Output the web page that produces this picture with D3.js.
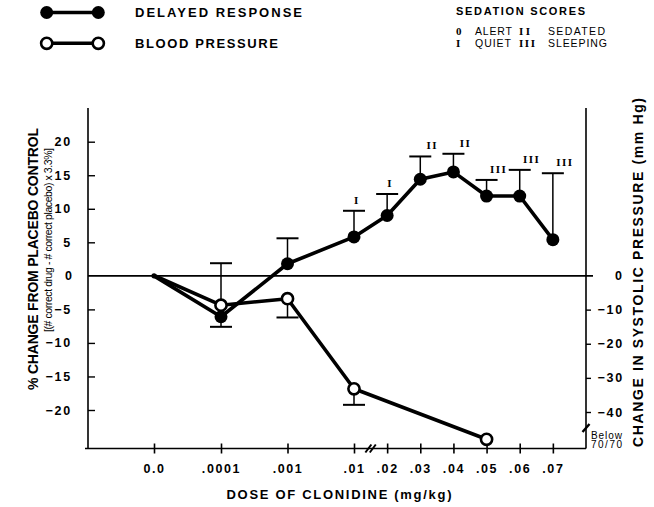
<!DOCTYPE html>
<html>
<head>
<meta charset="utf-8">
<script src="https://cdn.jsdelivr.net/npm/d3@7/dist/d3.min.js"></script>
<style>
  html, body { margin: 0; padding: 0; background: #fff; }
  svg { display: block; }
  text { fill: #000; }
</style>
</head>
<body>
<svg id="chart" width="654" height="507"></svg>
<script>
// Clonidine dose steps (mg/kg) and their axis labels
const doses = [0, 0.0001, 0.001, 0.01, 0.02, 0.03, 0.04, 0.05, 0.06, 0.07];
const doseLabels = ["0.0", ".0001", ".001", ".01", ".02", ".03", ".04", ".05", ".06", ".07"];

// Delayed response: % change from placebo control, with error-bar ends
const drDoses = [0, 0.0001, 0.001, 0.01, 0.02, 0.03, 0.04, 0.05, 0.06, 0.07];
const drValues = [0, -6.1, 1.8, 5.8, 9.0, 14.4, 15.5, 11.9, 11.9, 5.4];
const drErrEnds = [null, -7.6, 5.6, 9.7, 12.2, 17.8, 18.2, 14.3, 15.8, 15.3];
const drSedation = [null, null, null, "I", "I", "II", "II", "III", "III", "III"];

// Blood pressure: change in systolic pressure (mm Hg)
const bpDoses = [0, 0.0001, 0.001, 0.01, 0.05];
const bpValues = [0, -8.7, -6.8, -33.2, -48];
const bpErrEnds = [null, 3.6, -12.3, -37.9, null];

// Axis ticks
const leftTicks = [-20, -15, -10, -5, 0, 5, 10, 15, 20];
const rightTicks = [0, -10, -20, -30, -40];

const svg = d3.select("#chart");
const SANS = "'Liberation Sans', Arial, Helvetica, sans-serif";
const SERIF = "'Liberation Serif', 'Times New Roman', serif";

// Piecewise dose scale: stretched spacing below .01, linear above
const x = d3.scaleLinear()
  .domain([0, 0.0001, 0.001, 0.01, 0.08])
  .range([154, 221, 287.5, 354, 586]);
const yL = d3.scaleLinear().domain([-20, 20]).range([410, 141.7]);
const yR = d3.scaleLinear().domain([0, -40]).range([275.5, 412]);

const plotLeft = 88, plotRight = 586, plotTop = 108, plotBottom = 448.5;

const g = svg.append("g");

// Frame: left and right axes
g.append("line").attr("x1", plotLeft).attr("x2", plotLeft).attr("y1", plotTop).attr("y2", plotBottom)
  .attr("stroke", "#000").attr("stroke-width", 1.6);
g.append("line").attr("x1", plotRight).attr("x2", plotRight).attr("y1", plotTop).attr("y2", plotBottom)
  .attr("stroke", "#000").attr("stroke-width", 1.6);

// Zero reference line
g.append("line").attr("x1", plotLeft).attr("x2", plotRight + 7)
  .attr("y1", yL(0)).attr("y2", yL(0))
  .attr("stroke", "#000").attr("stroke-width", 1.6);

// Bottom axis
const xAxis = d3.axisBottom(x)
  .tickValues(doses)
  .tickFormat((d, i) => doseLabels[i])
  .tickSizeInner(5).tickSizeOuter(0).tickPadding(11);
const gx = g.append("g").attr("transform", `translate(0,${plotBottom})`).call(xAxis);
gx.select(".domain").attr("d", `M${plotLeft - 3},0H${plotRight}`).attr("stroke-width", 1.6);
gx.selectAll(".tick line").attr("y1", -5).attr("y2", 5).attr("stroke-width", 1.6);
gx.selectAll(".tick text")
  .attr("font-family", SANS).attr("font-weight", "bold").attr("font-size", 12.5)
  .attr("letter-spacing", 1.6).attr("dy", "0.71em");

// Axis break between .01 and .02
const bx = (x(0.01) + x(0.02)) / 2;
[-2.2, 2.2].forEach(o => {
  g.append("line").attr("x1", bx + o - 3).attr("y1", plotBottom + 4)
    .attr("x2", bx + o + 3).attr("y2", plotBottom - 4)
    .attr("stroke", "#000").attr("stroke-width", 2);
});

// Left axis ticks (inward) and labels
const yAxisL = d3.axisLeft(yL).tickValues(leftTicks.filter(d => d !== 0))
  .tickSizeInner(-7).tickSizeOuter(0).tickPadding(22).tickFormat(d3.format("d"));
const gyl = g.append("g").attr("transform", `translate(${plotLeft},0)`).call(yAxisL);
gyl.select(".domain").remove();
gyl.selectAll(".tick line").attr("stroke-width", 1.4);
gyl.selectAll(".tick text")
  .attr("font-family", SANS).attr("font-weight", "bold").attr("font-size", 12.5)
  .attr("letter-spacing", 1.8).attr("x", -16);
g.append("text").attr("x", 72).attr("y", yL(0)).attr("dy", "0.34em")
  .attr("text-anchor", "end").attr("font-family", SANS).attr("font-weight", "bold")
  .attr("font-size", 12.5).text("0");

// Right axis ticks (outward) and labels
const yAxisR = d3.axisRight(yR).tickValues(rightTicks.filter(d => d !== 0))
  .tickSizeInner(5).tickSizeOuter(0).tickPadding(8).tickFormat(d3.format("d"));
const gyr = g.append("g").attr("transform", `translate(${plotRight},0)`).call(yAxisR);
gyr.select(".domain").remove();
gyr.selectAll(".tick line").attr("stroke-width", 1.4);
gyr.selectAll(".tick text")
  .attr("font-family", SANS).attr("font-weight", "bold").attr("font-size", 12.5)
  .attr("letter-spacing", 1.8).attr("text-anchor", "end").attr("x", 38);
g.append("text").attr("x", 622).attr("y", yR(0)).attr("dy", "0.34em")
  .attr("text-anchor", "end").attr("font-family", SANS).attr("font-weight", "bold")
  .attr("font-size", 12.5).text("0");

// Right axis break and off-scale note
g.append("line").attr("x1", plotRight - 3.5).attr("y1", 432)
  .attr("x2", plotRight + 3.5).attr("y2", 424)
  .attr("stroke", "#000").attr("stroke-width", 2.4);
const note = g.append("text").attr("font-family", SANS).attr("font-size", 10);
note.append("tspan").attr("x", 591).attr("y", 438.5).attr("textLength", 31).text("Below");
note.append("tspan").attr("x", 591).attr("y", 448).attr("textLength", 31).text("70/70");

// Axis titles
g.append("text")
  .attr("transform", "translate(37.5,259) rotate(-90)")
  .attr("text-anchor", "middle").attr("font-family", SANS).attr("font-weight", "bold")
  .attr("font-size", 14).attr("textLength", 262).attr("lengthAdjust", "spacing")
  .text("% CHANGE FROM PLACEBO CONTROL");
g.append("text")
  .attr("transform", "translate(51.5,240) rotate(-90)")
  .attr("text-anchor", "middle").attr("font-family", SANS)
  .attr("font-size", 10.5).attr("textLength", 184).attr("lengthAdjust", "spacing")
  .text("[(# correct drug - # correct placebo) x 3.3%]");
g.append("text")
  .attr("transform", "translate(643,272.5) rotate(-90)")
  .attr("text-anchor", "middle").attr("font-family", SANS).attr("font-weight", "bold")
  .attr("font-size", 14).attr("textLength", 349).attr("lengthAdjust", "spacing")
  .text("CHANGE IN SYSTOLIC PRESSURE (mm Hg)");
g.append("text")
  .attr("x", 339).attr("y", 499)
  .attr("text-anchor", "middle").attr("font-family", SANS).attr("font-weight", "bold")
  .attr("font-size", 13).attr("textLength", 225).attr("lengthAdjust", "spacing")
  .text("DOSE OF CLONIDINE (mg/kg)");

// Error bars
const cap = 11;
function errorBars(ds, vals, ends, yScale) {
  ds.forEach((d, i) => {
    if (ends[i] == null) return;
    const cx = x(d), y0 = yScale(vals[i]), y1 = yScale(ends[i]);
    g.append("line").attr("x1", cx).attr("x2", cx).attr("y1", y0).attr("y2", y1)
      .attr("stroke", "#000").attr("stroke-width", 1.5);
    g.append("line").attr("x1", cx - cap).attr("x2", cx + cap).attr("y1", y1).attr("y2", y1)
      .attr("stroke", "#000").attr("stroke-width", 2);
  });
}
errorBars(bpDoses, bpValues, bpErrEnds, yR);
errorBars(drDoses, drValues, drErrEnds, yL);

// Blood pressure line and open markers
const bpPts = bpDoses.map((d, i) => [x(d), yR(bpValues[i])]);
g.append("path").attr("d", d3.line()(bpPts))
  .attr("fill", "none").attr("stroke", "#000").attr("stroke-width", 3.6).attr("stroke-linejoin", "round");
g.selectAll(".bp").data(bpPts.slice(1)).join("circle")
  .attr("cx", d => d[0]).attr("cy", d => d[1]).attr("r", 5.6)
  .attr("fill", "#fff").attr("stroke", "#000").attr("stroke-width", 2.6);

// Delayed response line and filled markers
const drPts = drDoses.map((d, i) => [x(d), yL(drValues[i])]);
g.append("path").attr("d", d3.line()(drPts))
  .attr("fill", "none").attr("stroke", "#000").attr("stroke-width", 3.6).attr("stroke-linejoin", "round");
g.append("circle").attr("cx", drPts[0][0]).attr("cy", drPts[0][1]).attr("r", 2.6).attr("fill", "#000");
g.selectAll(".dr").data(drPts.slice(1)).join("circle")
  .attr("cx", d => d[0]).attr("cy", d => d[1]).attr("r", 6.5).attr("fill", "#000");

// Sedation score labels above the error bars
drDoses.forEach((d, i) => {
  if (!drSedation[i]) return;
  const lab = drSedation[i];
  g.append("text")
    .attr("x", x(d) + (lab.length === 1 ? 3 : 12))
    .attr("y", yL(drErrEnds[i]) - 7)
    .attr("text-anchor", "middle").attr("font-family", SERIF).attr("font-weight", "bold")
    .attr("font-size", 11).attr("letter-spacing", 1.5).text(lab);
});

// Legend: series
const leg = svg.append("g");
[["DELAYED RESPONSE", 12.5, "#000"], ["BLOOD PRESSURE", 43.3, "#fff"]].forEach(([label, ly, fill], i) => {
  leg.append("line").attr("x1", 46.7).attr("x2", 98.3).attr("y1", ly).attr("y2", ly)
    .attr("stroke", "#000").attr("stroke-width", 3.4);
  [46.7, 98.3].forEach(cx => {
    leg.append("circle").attr("cx", cx).attr("cy", ly)
      .attr("r", fill === "#000" ? 6.5 : 5.6)
      .attr("fill", fill).attr("stroke", "#000").attr("stroke-width", fill === "#000" ? 0 : 2.6);
  });
  leg.append("text").attr("x", 135).attr("y", ly + 4.8)
    .attr("font-family", SANS).attr("font-weight", "bold").attr("font-size", 13)
    .attr("textLength", i === 0 ? 167 : 143).attr("lengthAdjust", "spacing")
    .text(label);
});

// Legend: sedation scores
const sed = svg.append("g");
sed.append("text").attr("x", 456).attr("y", 15)
  .attr("font-family", SANS).attr("font-weight", "bold").attr("font-size", 11)
  .attr("textLength", 129).attr("lengthAdjust", "spacing").text("SEDATION SCORES");
const sedRows = [
  [["0", 456, 35, null], ["ALERT", 475, 35, 37], ["II", 519, 35, 11], ["SEDATED", 548, 35, 57]],
  [["I", 456, 47, null], ["QUIET", 475, 47, 36], ["III", 519, 47, 16], ["SLEEPING", 548, 47, 59]]
];
sedRows.forEach(row => row.forEach(([t, tx, ty, len]) => {
  const roman = /^[0I]+$/.test(t);
  const el = sed.append("text").attr("x", tx).attr("y", ty)
    .attr("font-family", roman ? SERIF : SANS)
    .attr("font-weight", roman ? "bold" : "normal")
    .attr("font-size", roman ? 11 : 10.5).text(t);
  if (len) el.attr("textLength", len).attr("lengthAdjust", "spacing");
}));
</script>
</body>
</html>
